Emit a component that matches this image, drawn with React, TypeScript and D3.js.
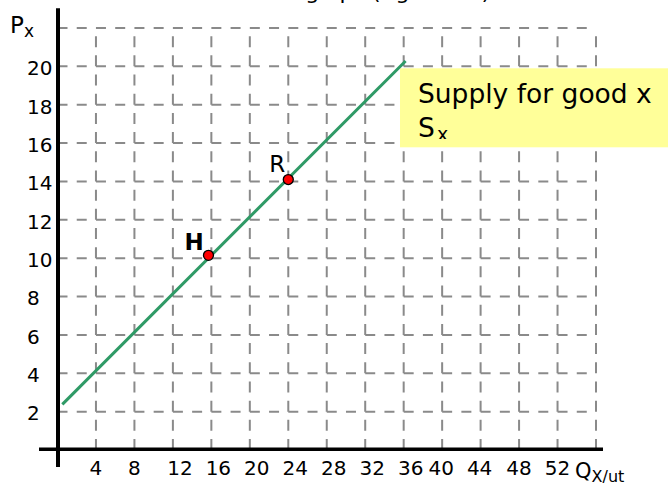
import { useEffect, useRef } from "react";
import * as d3 from "d3";

const xGrid = [4, 8, 12, 16, 20, 24, 28, 32, 36, 40, 44, 48, 52, 56];
const yGrid = [2, 4, 6, 8, 10, 12, 14, 16, 18, 20, 22];
const xTicks = [4, 8, 12, 16, 20, 24, 28, 32, 36, 40, 44, 48, 52];
const yTicks = [2, 4, 6, 8, 10, 12, 14, 16, 18, 20];

const supply = [
  { q: 0.5, p: 2.38 },
  { q: 36.2, p: 20.28 },
];

const points = [
  { name: "H", q: 15.7, p: 10.15, bold: true },
  { name: "R", q: 24, p: 14.1, bold: false },
];

const W = 668;
const H = 485;
const FONT = "DejaVu Sans, Verdana, sans-serif";

export default function App() {
  const svgRef = useRef<SVGSVGElement>(null);

  useEffect(() => {
    if (!svgRef.current) return;
    const svg = d3.select(svgRef.current);
    svg.selectAll("*").remove();

    const x = d3.scaleLinear().domain([0, 56]).range([57.5, 596]);
    const y = d3.scaleLinear().domain([0, 22]).range([450, 28]);

    // title, cut off at the top edge (only descenders show)
    svg
      .append("text")
      .attr("x", 228)
      .attr("y", -1.5)
      .style("font-family", FONT)
      .style("font-size", "22px")
      .attr("fill", "#000")
      .attr("textLength", 262)
      .text("Market graph (Figure 1.1)");

    // dashed grid
    const grid = svg.append("g").attr("stroke", "#8a8a8a").attr("stroke-width", 2);
    grid
      .selectAll("line.h")
      .data(yGrid)
      .join("line")
      .attr("class", "h")
      .attr("x1", x(0))
      .attr("x2", x(56))
      .attr("y1", (d) => y(d))
      .attr("y2", (d) => y(d))
      .attr("stroke-dasharray", `10 ${(x(4) - x(0)) / 2 - 10}`);
    grid
      .selectAll("line.v")
      .data(xGrid)
      .join("line")
      .attr("class", "v")
      .attr("x1", (d) => x(d))
      .attr("x2", (d) => x(d))
      .attr("y1", y(0))
      .attr("y2", y(22))
      .attr("stroke-dasharray", `11 ${(y(0) - y(2)) / 2 - 11}`);

    // note box
    svg.append("rect").attr("x", 400).attr("y", 68.3).attr("width", W - 400).attr("height", 79).attr("fill", "#ffff99");
    svg
      .append("text")
      .attr("x", 418)
      .attr("y", 103.3)
      .style("font-family", FONT)
      .style("font-size", "26.5px")
      .attr("fill", "#000")
      .text("Supply for good x");
    svg
      .append("text")
      .attr("x", 418)
      .attr("y", 137)
      .style("font-family", FONT)
      .style("font-size", "26.5px")
      .attr("fill", "#000")
      .text("S");
    svg
      .append("clipPath")
      .attr("id", "subclip")
      .append("rect")
      .attr("x", 430)
      .attr("y", 110)
      .attr("width", 40)
      .attr("height", 29);
    svg
      .append("text")
      .attr("x", 437)
      .attr("y", 141)
      .attr("clip-path", "url(#subclip)")
      .style("font-family", FONT)
      .style("font-size", "19px")
      .attr("fill", "#000")
      .text("x");

    // axes
    svg.append("line").attr("x1", 39).attr("x2", 603).attr("y1", 449.3).attr("y2", 449.3).attr("stroke", "#000").attr("stroke-width", 3.5);
    svg.append("line").attr("x1", 58).attr("x2", 58).attr("y1", 8.3).attr("y2", 467).attr("stroke", "#000").attr("stroke-width", 4);

    // tick labels
    const shift = (v: number) => (v >= 12 && v <= 36 ? 7 : v >= 40 && v <= 44 ? -1 : 0);
    svg
      .selectAll("text.xt")
      .data(xTicks)
      .join("text")
      .attr("class", "xt")
      .attr("x", (d) => x(d) + shift(d))
      .attr("y", 475)
      .attr("text-anchor", "middle")
      .style("font-family", FONT)
      .style("font-size", "20px")
      .attr("fill", "#000")
      .text((d) => d);
    svg
      .selectAll("text.yt")
      .data(yTicks)
      .join("text")
      .attr("class", "yt")
      .attr("x", 27)
      .attr("y", (d) => y(d) + 8.8)
      .style("font-family", FONT)
      .style("font-size", "20px")
      .attr("fill", "#000")
      .text((d) => d);

    // axis titles
    const px = svg.append("text").attr("x", 10).attr("y", 33.3).style("font-family", FONT).attr("fill", "#000");
    px.append("tspan").style("font-size", "23px").text("P");
    px.append("tspan").style("font-size", "17px").attr("dy", 4).text("x");
    const qx = svg.append("text").attr("x", 575).attr("y", 477.5).style("font-family", FONT).attr("fill", "#000");
    qx.append("tspan").style("font-size", "21px").text("Q");
    qx.append("tspan").style("font-size", "16px").attr("dy", 4).text("X/ut");

    // supply curve
    const line = d3
      .line<{ q: number; p: number }>()
      .x((d) => x(d.q))
      .y((d) => y(d.p));
    svg
      .append("path")
      .datum(supply)
      .attr("d", line)
      .attr("fill", "none")
      .attr("stroke", "#2f9a66")
      .attr("stroke-width", 3);

    // points
    svg
      .selectAll("circle.pt")
      .data(points)
      .join("circle")
      .attr("class", "pt")
      .attr("cx", (d) => x(d.q))
      .attr("cy", (d) => y(d.p))
      .attr("r", 5)
      .attr("fill", "#ff0000")
      .attr("stroke", "#000")
      .attr("stroke-width", 1.3);
    svg
      .selectAll("text.pl")
      .data(points)
      .join("text")
      .attr("class", "pl")
      .attr("x", (d) => x(d.q) + (d.bold ? -24 : -19))
      .attr("y", (d) => y(d.p) + (d.bold ? -5 : -8))
      .style("font-family", FONT)
      .style("font-size", "23px")
      .style("font-weight", (d) => (d.bold ? "bold" : "normal"))
      .attr("fill", "#000")
      .text((d) => d.name);
  }, []);

  return (
    <div style={{ position: "fixed", left: 0, top: 0, width: W, height: H, background: "#fff" }}>
      <svg ref={svgRef} width={W} height={H} style={{ display: "block" }} />
    </div>
  );
}
